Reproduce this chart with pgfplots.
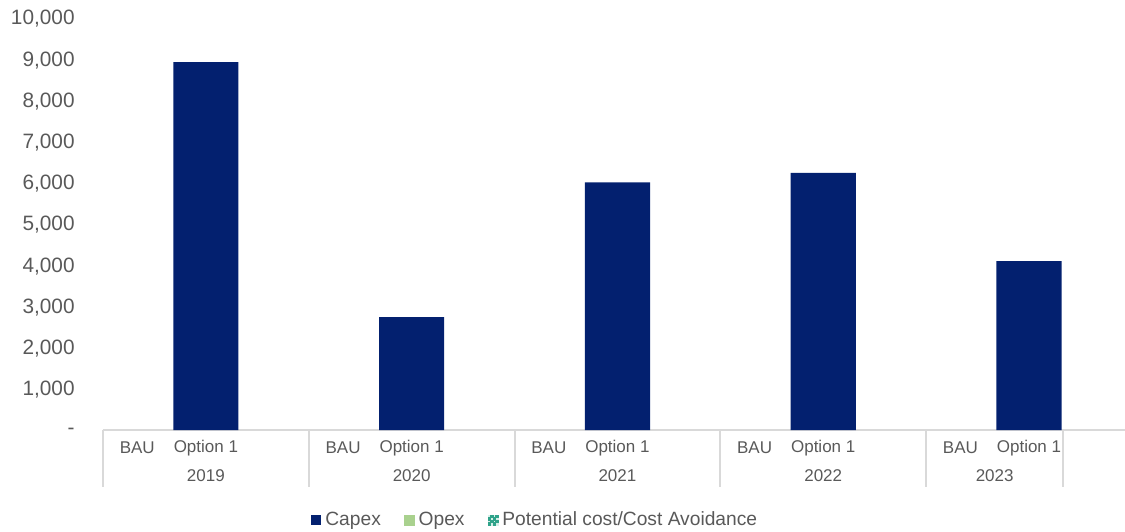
\documentclass[border=0pt]{standalone}
\usepackage{fontspec}
\setmainfont{Liberation Sans}
\usepackage{pgfplots}
\pgfplotsset{compat=1.18}
\definecolor{navy}{HTML}{03206F}
\definecolor{opexgreen}{HTML}{A9D18E}
\definecolor{tealdot}{HTML}{2FA38A}
\definecolor{teallight}{HTML}{D5EFE8}
\definecolor{txt}{HTML}{595959}
\definecolor{axgray}{HTML}{D9D9D9}
\begin{document}
\begin{tikzpicture}
\begin{axis}[
  at={(51.5pt,50.5pt)}, anchor=south west,
  scale only axis, width=511pt, height=206pt,
  xmin=-0.5, xmax=14.4, ymin=0, ymax=10000,
  clip=false, scaled y ticks=false,
  axis x line*=bottom, axis y line*=left,
  axis line style={-},
  x axis line style={draw=axgray, line width=1pt},
  y axis line style={draw=none},
  major tick length=0pt,
  ytick={0,1000,...,10000},
  yticklabels={-,{1,000},{2,000},{3,000},{4,000},{5,000},{6,000},{7,000},{8,000},{9,000},{10,000}},
  yticklabel style={anchor=east, inner sep=0pt, xshift=-14pt, yshift=-0.5pt, font=\fontsize{10.4}{12}\selectfont, text=txt},
  xtick={0,1,3,4,6,7,9,10,12,13},
  xticklabels={BAU,Option 1,BAU,Option 1,BAU,Option 1,BAU,Option 1,BAU,Option 1},
  xticklabel style={anchor=center, inner sep=0pt, yshift=-9pt, font=\fontsize{8.5}{10}\selectfont, text=txt},
  legend style={draw=none, fill=none, legend columns=3, inner sep=0pt,
    anchor=west, at={(0.2035,-0.219)},
    font=\fontsize{9.6}{11}\selectfont, text=txt,
    /tikz/every even column/.append style={column sep=9.5pt}},
  legend cell align=left,
]
\addplot[ybar, bar width=0.95, fill=navy, draw=none,
  legend image code/.code={\fill[navy] (0pt,-2.5pt) rectangle (5pt,2.5pt);}]
  coordinates {(1,8930) (4,2740) (7,6010) (10,6240) (13,4100)};
\addlegendentry{Capex}
\addlegendimage{legend image code/.code={\fill[opexgreen] (0pt,-2.5pt) rectangle (5pt,2.5pt);}}
\addlegendentry{Opex}
\addlegendimage{legend image code/.code={
  \fill[teallight] (0pt,-2.5pt) rectangle (5pt,2.5pt);
  \foreach \i in {0,1,2,3}{\foreach \j in {0,1,2,3}{
    \pgfmathparse{int(mod(\i+\j,2))}
    \ifnum\pgfmathresult=0 \fill[tealdot] (\i*1.25pt,-2.5pt+\j*1.25pt) rectangle ++(1.25pt,1.25pt);\fi
  }}
}}
\addlegendentry{Potential cost/Cost Avoidance}
\pgfplotsinvokeforeach{-0.5,2.5,5.5,8.5,11.5,13.5}{
  \draw[axgray, line width=1pt] (axis cs:#1,0) -- ++(0pt,-28.5pt);
}
\node[font=\fontsize{8.5}{10}\selectfont, text=txt, inner sep=0pt] at ([yshift=-23pt]axis cs:1,0) {2019};
\node[font=\fontsize{8.5}{10}\selectfont, text=txt, inner sep=0pt] at ([yshift=-23pt]axis cs:4,0) {2020};
\node[font=\fontsize{8.5}{10}\selectfont, text=txt, inner sep=0pt] at ([yshift=-23pt]axis cs:7,0) {2021};
\node[font=\fontsize{8.5}{10}\selectfont, text=txt, inner sep=0pt] at ([yshift=-23pt]axis cs:10,0) {2022};
\node[font=\fontsize{8.5}{10}\selectfont, text=txt, inner sep=0pt] at ([yshift=-23pt]axis cs:12.5,0) {2023};
\end{axis}
\pgfresetboundingbox
\useasboundingbox (0,0) rectangle (562.5pt,265.5pt);
\end{tikzpicture}
\end{document}
